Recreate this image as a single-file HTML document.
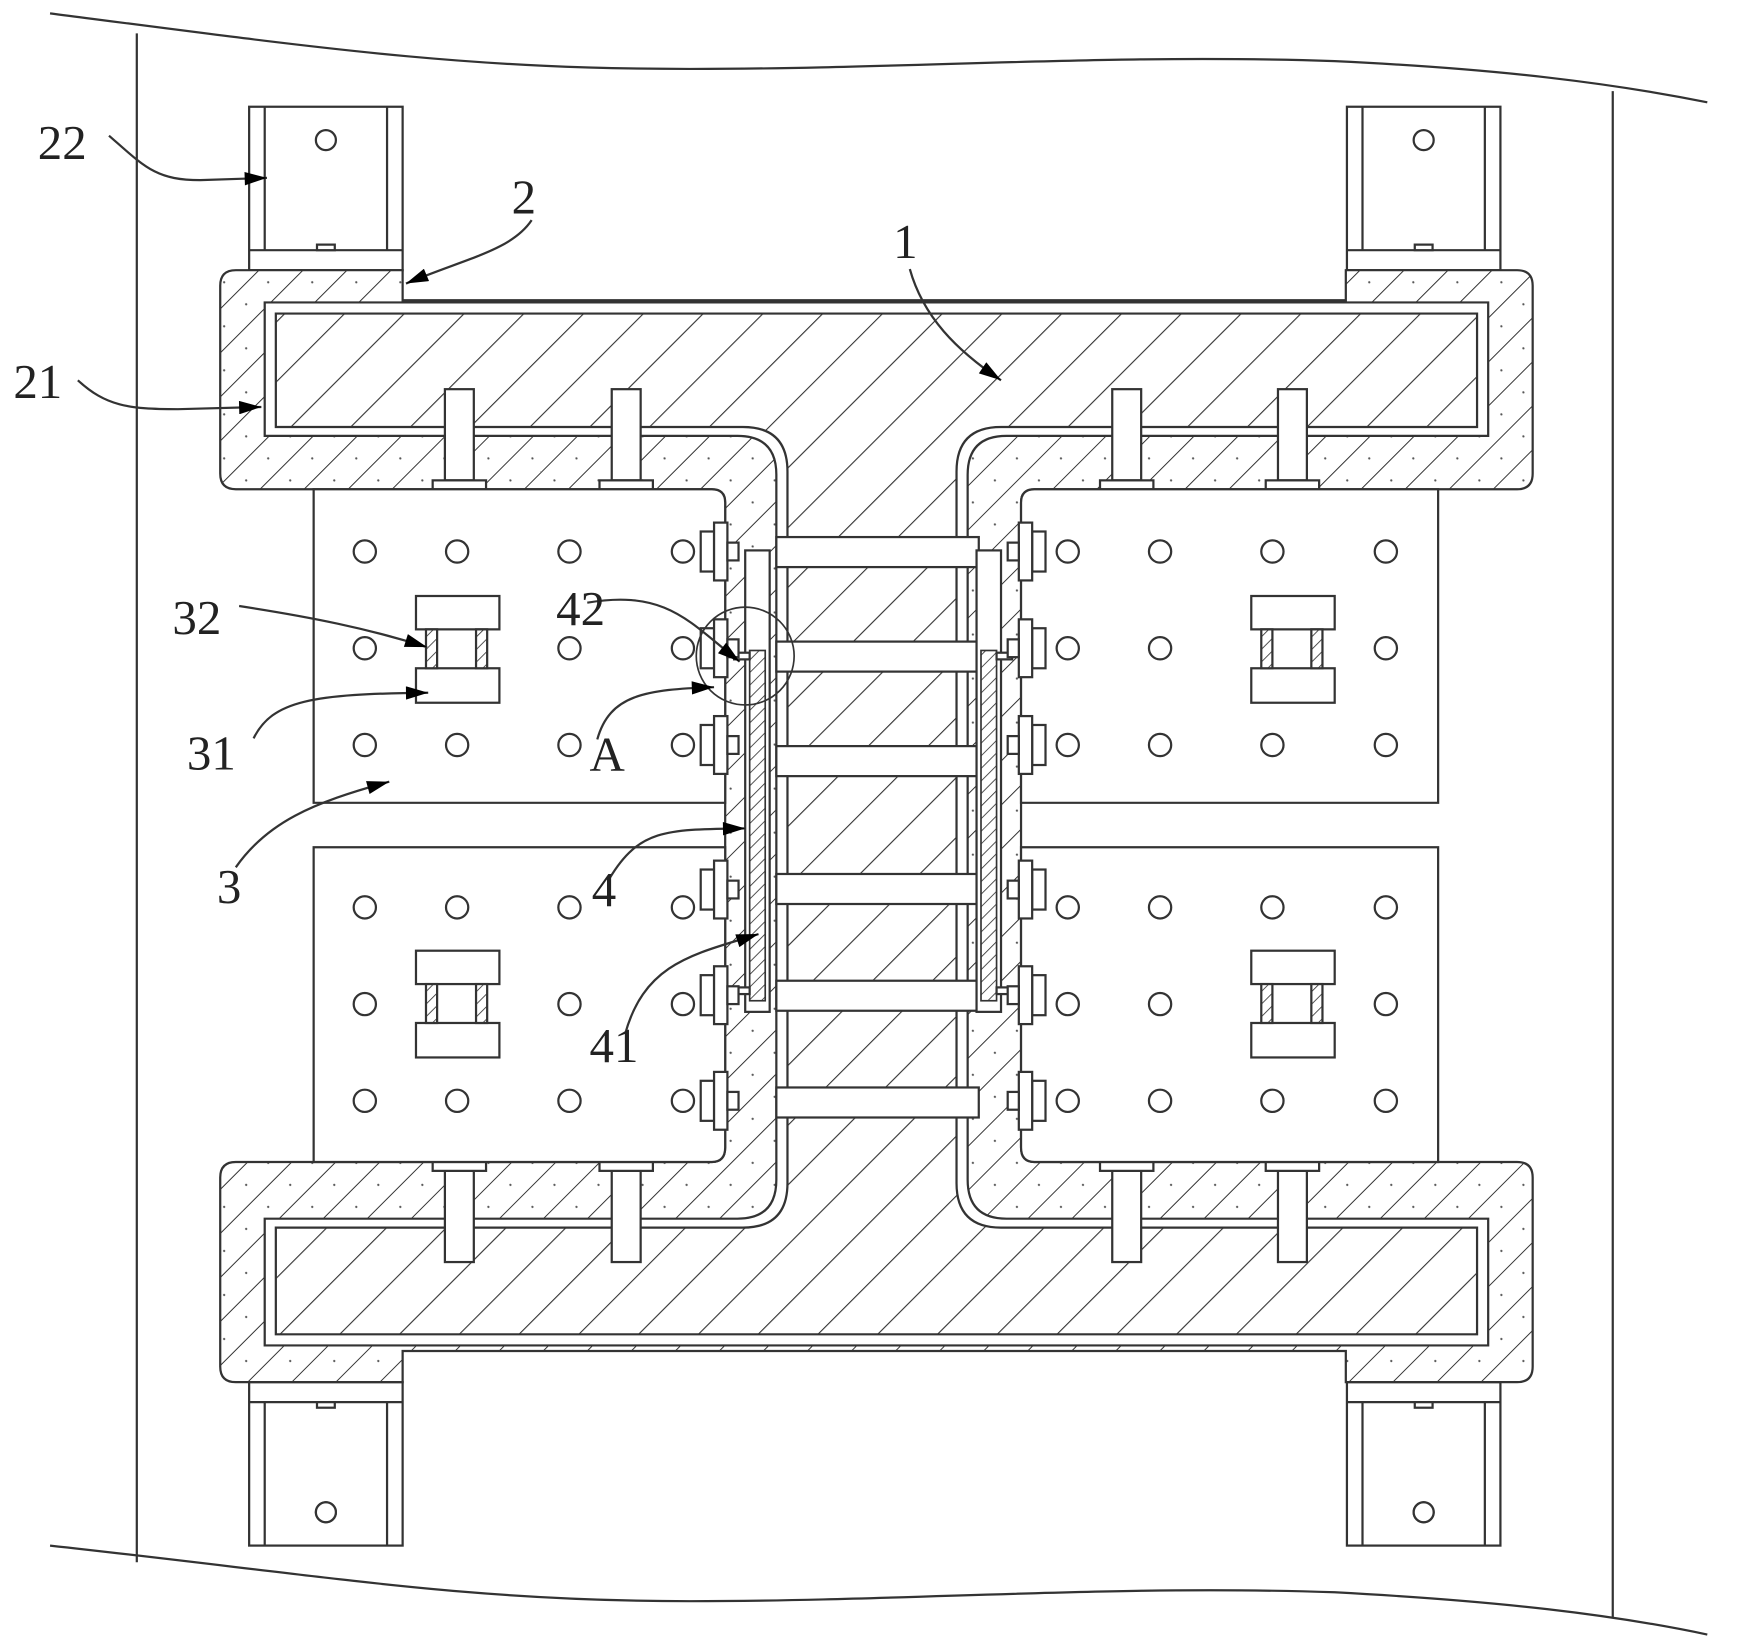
<!DOCTYPE html>
<html><head><meta charset="utf-8"><style>html,body{margin:0;padding:0;background:#fff}svg{display:block}</style></head><body>
<svg width="1744" height="1649" viewBox="0 0 1568 1483" preserveAspectRatio="none" xmlns="http://www.w3.org/2000/svg">
<defs>
<pattern id="h1" patternUnits="userSpaceOnUse" width="38" height="38" patternTransform="rotate(45)"><rect width="38" height="38" fill="#fff"/><line x1="0" y1="0" x2="0" y2="38" stroke="#333" stroke-width="2"/></pattern>
<pattern id="h2" patternUnits="userSpaceOnUse" width="28" height="28" patternTransform="rotate(45)"><rect width="28" height="28" fill="#fff"/><line x1="0" y1="0" x2="0" y2="28" stroke="#333" stroke-width="1.8"/><circle cx="14" cy="9" r="1" fill="#555"/></pattern>
<pattern id="h3" patternUnits="userSpaceOnUse" width="8" height="8" patternTransform="rotate(45)"><rect width="8" height="8" fill="#fff"/><line x1="0" y1="0" x2="0" y2="8" stroke="#333" stroke-width="1.5"/></pattern>
<marker id="ar" viewBox="0 0 10 6" refX="10" refY="3" markerWidth="36" markerHeight="12" markerUnits="userSpaceOnUse" orient="auto"><path d="M0,0 L10,3 L0,6 Z" fill="#000"/></marker>
<g id="clamp" stroke="#333" stroke-width="2" fill="#fff">
<rect x="2" y="28" width="71" height="39" stroke="none"/>
<rect x="0" y="0" width="75" height="30"/><rect x="0" y="65" width="75" height="31"/>
<rect x="9" y="30" width="10" height="35" fill="url(#h3)"/><rect x="54" y="30" width="10" height="35" fill="url(#h3)"/>
</g>
<g id="motor" stroke="#333" stroke-width="2" fill="#fff">
<rect x="0" y="0" width="138" height="147"/><line x1="14" y1="0" x2="14" y2="129"/><line x1="124" y1="0" x2="124" y2="129"/><line x1="0" y1="129" x2="138" y2="129"/>
<circle cx="69" cy="30" r="9"/><rect x="61" y="124" width="16" height="5"/>
</g>
<g id="stud" stroke="#333" stroke-width="2" fill="#fff"><rect x="-13" y="0" width="26" height="82"/><rect x="-24" y="82" width="48" height="8"/></g>
<g id="holes" fill="none" stroke="#333" stroke-width="2">
<circle cx="0" cy="0" r="10"/><circle cx="83" cy="0" r="10"/><circle cx="184" cy="0" r="10"/><circle cx="286" cy="0" r="10"/>
<circle cx="0" cy="87" r="10"/><circle cx="83" cy="87" r="10"/><circle cx="184" cy="87" r="10"/><circle cx="286" cy="87" r="10"/>
<circle cx="0" cy="174" r="10"/><circle cx="83" cy="174" r="10"/><circle cx="184" cy="174" r="10"/><circle cx="286" cy="174" r="10"/>
</g>
<g id="boltL" stroke="#333" stroke-width="2" fill="#fff"><rect x="-20" y="-18" width="12" height="36"/><rect x="-8" y="-26" width="12" height="52"/><rect x="4" y="-8" width="10" height="16"/></g>
<g id="boltR" stroke="#333" stroke-width="2" fill="#fff"><rect x="8" y="-18" width="12" height="36"/><rect x="-4" y="-26" width="12" height="52"/><rect x="-14" y="-8" width="10" height="16"/></g>
</defs>
<rect width="1568" height="1483" fill="#fff"/>
<path d="M45,12 C300,45 420,62 620,62 C820,62 1000,48 1200,55 C1350,62 1450,75 1535,92" fill="none" stroke="#333" stroke-width="2"/>
<path d="M45,1390 C300,1418 420,1440 620,1440 C820,1440 1000,1425 1200,1432 C1350,1440 1450,1452 1535,1470" fill="none" stroke="#333" stroke-width="2"/>
<line x1="123" y1="30" x2="123" y2="1405" stroke="#333" stroke-width="2"/>
<line x1="1450" y1="82" x2="1450" y2="1455" stroke="#333" stroke-width="2"/>
<use href="#motor" x="224" y="96"/><use href="#motor" x="1211" y="96"/>
<g transform="translate(224,1390) scale(1,-1)"><use href="#motor"/></g>
<g transform="translate(1211,1390) scale(1,-1)"><use href="#motor"/></g>
<circle cx="293" cy="1360" r="9" fill="#fff" stroke="#333" stroke-width="2"/><circle cx="1280" cy="1360" r="9" fill="#fff" stroke="#333" stroke-width="2"/>
<path fill-rule="evenodd" fill="url(#h2)" stroke="#333" stroke-width="2" d="M362,243 H212 Q198,243 198,257 V426 Q198,440 212,440 H640 Q652,440 652,452 V1032 Q652,1045 640,1045 H212 Q198,1045 198,1059 V1229 Q198,1243 212,1243 H362 V1215 H1210 V1243 H1364 Q1378,1243 1378,1229 V1059 Q1378,1045 1364,1045 H930 Q918,1045 918,1032 V452 Q918,440 930,440 H1364 Q1378,440 1378,426 V257 Q1378,243 1364,243 H1210 V270 H362 Z M238,272 H1338 V392 H905 Q870,392 870,427 V1061 Q870,1096 905,1096 H1338 V1210 H238 V1096 H663 Q698,1096 698,1061 V427 Q698,392 663,392 H238 Z"/>
<path fill="url(#h1)" stroke="#333" stroke-width="2" d="M248,282 H1328 V384 H900 Q860,384 860,424 V1064 Q860,1104 900,1104 H1328 V1200 H248 V1104 H668 Q708,1104 708,1064 V424 Q708,384 668,384 H248 Z"/>
<use href="#stud" x="413" y="350"/><use href="#stud" x="563" y="350"/><use href="#stud" x="1013" y="350"/><use href="#stud" x="1162" y="350"/>
<g transform="translate(0,1485) scale(1,-1)"><use href="#stud" x="413" y="350"/><use href="#stud" x="563" y="350"/><use href="#stud" x="1013" y="350"/><use href="#stud" x="1162" y="350"/></g>
<g fill="#fff" stroke="#333" stroke-width="2">
<path d="M282,440 H640 Q652,440 652,452 V722 H282 Z"/>
<path d="M282,762 H652 V1032 Q652,1045 640,1045 H282 Z"/>
<path d="M1293,440 H930 Q918,440 918,452 V722 H1293 Z"/>
<path d="M1293,762 H918 V1032 Q918,1045 930,1045 H1293 Z"/>
</g>
<use href="#holes" x="328" y="496"/><use href="#holes" x="328" y="816"/>
<use href="#holes" x="960" y="496"/><use href="#holes" x="960" y="816"/>
<use href="#clamp" x="374" y="536"/><use href="#clamp" x="374" y="855"/>
<use href="#clamp" x="1125" y="536"/><use href="#clamp" x="1125" y="855"/>
<g fill="#fff" stroke="#333" stroke-width="2">
<rect x="698" y="483" width="182" height="27"/><rect x="698" y="577" width="182" height="27"/><rect x="698" y="671" width="182" height="27"/>
<rect x="698" y="786" width="182" height="27"/><rect x="698" y="882" width="182" height="27"/><rect x="698" y="978" width="182" height="27"/>
<rect x="670" y="495" width="22" height="415"/><rect x="878" y="495" width="22" height="415"/>
</g>
<rect x="674" y="585" width="14" height="315" fill="url(#h3)" stroke="#333" stroke-width="1.5"/>
<rect x="882" y="585" width="14" height="315" fill="url(#h3)" stroke="#333" stroke-width="1.5"/>
<g stroke="#333" stroke-width="2" fill="#fff"><rect x="660" y="587" width="14" height="6"/><rect x="660" y="888" width="14" height="6"/><rect x="896" y="587" width="14" height="6"/><rect x="896" y="888" width="14" height="6"/></g>
<g>
<use href="#boltL" x="650" y="496"/><use href="#boltL" x="650" y="583"/><use href="#boltL" x="650" y="670"/>
<use href="#boltL" x="650" y="800"/><use href="#boltL" x="650" y="895"/><use href="#boltL" x="650" y="990"/>
<use href="#boltR" x="920" y="496"/><use href="#boltR" x="920" y="583"/><use href="#boltR" x="920" y="670"/>
<use href="#boltR" x="920" y="800"/><use href="#boltR" x="920" y="895"/><use href="#boltR" x="920" y="990"/>
</g>
<circle cx="670" cy="590" r="44" fill="none" stroke="#333" stroke-width="1.5"/>
<g fill="none" stroke="#333" stroke-width="2" marker-end="url(#ar)">
<path d="M98,122 C130,150 140,162 180,162 L240,160"/>
<path d="M478,198 C460,225 420,232 365,255"/>
<path d="M818,242 C830,285 860,315 900,342"/>
<path d="M70,342 C95,365 115,368 160,368 L235,366"/>
<path d="M215,545 C280,555 330,565 384,582"/>
<path d="M228,664 C245,630 280,624 385,623"/>
<path d="M212,780 C240,740 280,722 350,703"/>
<path d="M528,542 C600,530 620,560 665,595"/>
<path d="M537,665 C548,625 580,620 642,618"/>
<path d="M548,790 C575,745 600,746 670,745"/>
<path d="M562,930 C580,865 625,858 682,840"/>
</g>
<g font-family="'Liberation Serif', serif" font-size="44" fill="#222">
<text x="34" y="143">22</text><text x="460" y="192">2</text><text x="803" y="232">1</text><text x="12" y="358">21</text>
<text x="155" y="570">32</text><text x="168" y="692">31</text><text x="195" y="812">3</text>
<text x="500" y="562">42</text><text x="530" y="693">A</text><text x="532" y="815">4</text><text x="530" y="955">41</text>
</g>
</svg>
</body></html>
